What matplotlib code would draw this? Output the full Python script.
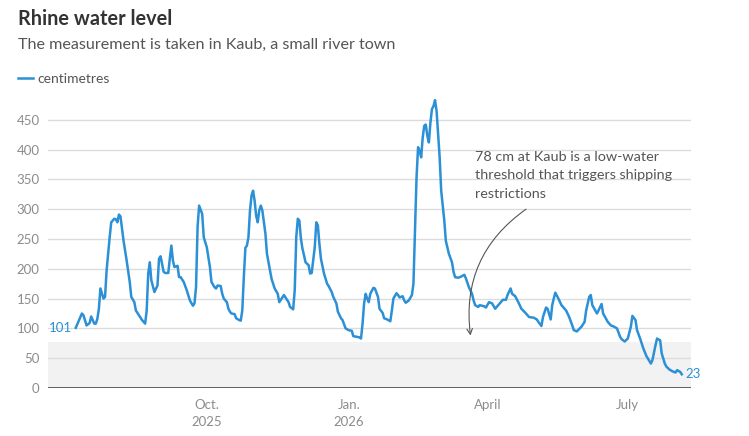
import matplotlib
matplotlib.use("Agg")
import matplotlib.pyplot as plt
import pandas as pd

plt.rcParams['font.family'] = ['Lato', 'DejaVu Sans']

# Kaub gauge, centimetres
dates = [
    "2025-07-08", "2025-07-09", "2025-07-12", "2025-07-13", "2025-07-15", "2025-07-17",
    "2025-07-18", "2025-07-20", "2025-07-21", "2025-07-22", "2025-07-23", "2025-07-24",
    "2025-07-26", "2025-07-27", "2025-07-28", "2025-07-30", "2025-07-31", "2025-08-02",
    "2025-08-03", "2025-08-04", "2025-08-05", "2025-08-06", "2025-08-08", "2025-08-10",
    "2025-08-12", "2025-08-13", "2025-08-15", "2025-08-16", "2025-08-18", "2025-08-20",
    "2025-08-22", "2025-08-23", "2025-08-24", "2025-08-25", "2025-08-26", "2025-08-28",
    "2025-08-30", "2025-08-31", "2025-09-01", "2025-09-03", "2025-09-04", "2025-09-06",
    "2025-09-07", "2025-09-08", "2025-09-09", "2025-09-10", "2025-09-12", "2025-09-13",
    "2025-09-14", "2025-09-16", "2025-09-18", "2025-09-20", "2025-09-22", "2025-09-23",
    "2025-09-24", "2025-09-25", "2025-09-26", "2025-09-28", "2025-09-29", "2025-10-01",
    "2025-10-03", "2025-10-04", "2025-10-06", "2025-10-07", "2025-10-08", "2025-10-10",
    "2025-10-11", "2025-10-12", "2025-10-14", "2025-10-15", "2025-10-16", "2025-10-17",
    "2025-10-19", "2025-10-20", "2025-10-22", "2025-10-23", "2025-10-24", "2025-10-25",
    "2025-10-26", "2025-10-27", "2025-10-28", "2025-10-29", "2025-10-30", "2025-10-31",
    "2025-11-01", "2025-11-02", "2025-11-03", "2025-11-04", "2025-11-05", "2025-11-06",
    "2025-11-08", "2025-11-09", "2025-11-11", "2025-11-12", "2025-11-14", "2025-11-16",
    "2025-11-17", "2025-11-20", "2025-11-23", "2025-11-24", "2025-11-26", "2025-11-27",
    "2025-11-28", "2025-11-29", "2025-11-30", "2025-12-01", "2025-12-02", "2025-12-03",
    "2025-12-04", "2025-12-06", "2025-12-07", "2025-12-08", "2025-12-10", "2025-12-11",
    "2025-12-12", "2025-12-13", "2025-12-14", "2025-12-16", "2025-12-18", "2025-12-19",
    "2025-12-21", "2025-12-22", "2025-12-24", "2025-12-25", "2025-12-27", "2025-12-28",
    "2025-12-30", "2026-01-01", "2026-01-03", "2026-01-04", "2026-01-06", "2026-01-08",
    "2026-01-09", "2026-01-10", "2026-01-11", "2026-01-12", "2026-01-13", "2026-01-14",
    "2026-01-15", "2026-01-17", "2026-01-18", "2026-01-20", "2026-01-21", "2026-01-23",
    "2026-01-24", "2026-01-26", "2026-01-28", "2026-01-29", "2026-01-30", "2026-02-01",
    "2026-02-02", "2026-02-03", "2026-02-05", "2026-02-06", "2026-02-07", "2026-02-09",
    "2026-02-11", "2026-02-12", "2026-02-13", "2026-02-14", "2026-02-15", "2026-02-16",
    "2026-02-17", "2026-02-18", "2026-02-19", "2026-02-20", "2026-02-21", "2026-02-22",
    "2026-02-23", "2026-02-24", "2026-02-25", "2026-02-26", "2026-02-27", "2026-03-01",
    "2026-03-02", "2026-03-04", "2026-03-05", "2026-03-07", "2026-03-09", "2026-03-10",
    "2026-03-11", "2026-03-13", "2026-03-15", "2026-03-17", "2026-03-18", "2026-03-20",
    "2026-03-22", "2026-03-23", "2026-03-24", "2026-03-26", "2026-03-27", "2026-03-30",
    "2026-03-31", "2026-04-02", "2026-04-04", "2026-04-06", "2026-04-08", "2026-04-11",
    "2026-04-13", "2026-04-14", "2026-04-16", "2026-04-17", "2026-04-19", "2026-04-21",
    "2026-04-23", "2026-04-26", "2026-04-28", "2026-05-01", "2026-05-03", "2026-05-04",
    "2026-05-06", "2026-05-07", "2026-05-09", "2026-05-10", "2026-05-12", "2026-05-13",
    "2026-05-14", "2026-05-15", "2026-05-17", "2026-05-19", "2026-05-22", "2026-05-24",
    "2026-05-26", "2026-05-27", "2026-05-29", "2026-06-01", "2026-06-03", "2026-06-04",
    "2026-06-06", "2026-06-07", "2026-06-08", "2026-06-11", "2026-06-12", "2026-06-14",
    "2026-06-15", "2026-06-18", "2026-06-20", "2026-06-22", "2026-06-24", "2026-06-26",
    "2026-06-27", "2026-06-29", "2026-07-01", "2026-07-03", "2026-07-04", "2026-07-06",
    "2026-07-07", "2026-07-09", "2026-07-11", "2026-07-13", "2026-07-16", "2026-07-17",
    "2026-07-19", "2026-07-20", "2026-07-22", "2026-07-23", "2026-07-25", "2026-07-26",
    "2026-07-28", "2026-07-30", "2026-08-01", "2026-08-02", "2026-08-04", "2026-08-05",
]
level_cm = [
    101, 107, 125, 122, 105, 109,
    120, 108, 108, 116, 133, 167,
    150, 153, 197, 253, 278, 284,
    283, 278, 291, 288, 247, 214,
    178, 153, 144, 130, 122, 114,
    108, 130, 192, 211, 181, 161,
    172, 217, 221, 195, 193, 193,
    217, 239, 214, 203, 205, 186,
    186, 178, 164, 147, 138, 142,
    169, 270, 306, 292, 253, 236,
    203, 178, 169, 167, 172, 171,
    158, 150, 144, 133, 128, 125,
    124, 117, 114, 113, 130, 186,
    235, 239, 253, 298, 323, 331,
    314, 289, 278, 298, 306, 298,
    259, 225, 197, 183, 167, 158,
    144, 156, 144, 136, 132, 164,
    253, 284, 281, 251, 234, 223,
    211, 206, 192, 193, 236, 278,
    273, 242, 217, 192, 175, 171,
    161, 153, 142, 128, 117, 114,
    100, 97, 96, 87, 86, 85,
    83, 108, 142, 158, 150, 144,
    158, 168, 167, 153, 133, 126,
    117, 115, 112, 130, 150, 159,
    156, 152, 154, 147, 143, 147,
    156, 175, 264, 353, 404, 398,
    387, 420, 440, 442, 423, 412,
    445, 468, 473, 483, 465, 387,
    331, 281, 247, 225, 211, 195,
    186, 185, 187, 190, 184, 169,
    158, 147, 139, 136, 139, 137,
    135, 144, 142, 133, 139, 148,
    148, 156, 167, 158, 154, 144,
    133, 125, 119, 118, 115, 111,
    104, 119, 135, 133, 115, 139,
    150, 160, 150, 139, 130, 119,
    105, 97, 95, 103, 111, 130,
    153, 156, 139, 125, 130, 141,
    125, 111, 105, 103, 100, 86,
    82, 78, 83, 103, 121, 114,
    97, 83, 67, 54, 41, 47,
    72, 83, 80, 58, 41, 36,
    31, 28, 26, 30, 27, 23,
]
threshold_cm = 78
y_ticks = [0, 50, 100, 150, 200, 250, 300, 350, 400, 450]
x_ticks = ["2025-10-01", "2026-01-01", "2026-04-01", "2026-07-01"]
x_tick_labels = ["Oct.\n2025", "Jan.\n2026", "April", "July"]

dates = pd.to_datetime(dates)
line_color = "#2b90d6"
grey_text = "#8c8c8c"

fig = plt.figure(figsize=(7.49, 4.36), dpi=100)
W, H = 749, 436
ax = fig.add_axes([48 / W, (H - 388) / H, (691 - 48) / W, 298 / H])

ax.set_xlim(pd.Timestamp("2025-06-20"), pd.Timestamp("2026-08-11"))
ax.set_ylim(0, 500)

# low water band
ax.axhspan(0, threshold_cm, color="#f2f2f2", zorder=0, lw=0)

ax.set_yticks(y_ticks)
ax.set_yticklabels([str(t) for t in y_ticks])
ax.grid(axis="y", color="#dcdcdc", lw=1, zorder=1)
ax.axhline(0, color="#555555", lw=1.3, zorder=2)

ax.set_xticks(pd.to_datetime(x_ticks))
ax.set_xticklabels(x_tick_labels, linespacing=1.45)
ax.tick_params(axis="both", length=0, labelsize=9.5, colors=grey_text)
ax.tick_params(axis="y", pad=6)
ax.tick_params(axis="x", pad=8)
for s in ax.spines.values():
    s.set_visible(False)

ax.plot(dates, level_cm, color=line_color, lw=1.8, zorder=3,
        solid_joinstyle="round")

ax.annotate(str(level_cm[0]), (dates[0], level_cm[0]), xytext=(-3, 0),
            textcoords="offset points", ha="right", va="center",
            color=line_color, fontsize=9.5)
ax.annotate(str(level_cm[-1]), (dates[-1], level_cm[-1]), xytext=(3, 0),
            textcoords="offset points", ha="left", va="center",
            color=line_color, fontsize=9.5)

ax.text(pd.Timestamp("2026-03-24"), 398,
        "78 cm at Kaub is a low-water\nthreshold that triggers shipping\nrestrictions",
        ha="left", va="top", fontsize=10.4, color="#555555", linespacing=1.65)
ax.annotate("", xy=(pd.Timestamp("2026-03-21"), 88),
            xytext=(pd.Timestamp("2026-04-26"), 300),
            arrowprops=dict(arrowstyle="->", color="#555555", lw=0.8,
                            connectionstyle="arc3,rad=0.3",
                            shrinkA=0, shrinkB=0))

fig.text(18 / W, 1 - 25 / H, "Rhine water level", fontsize=14.3,
         fontweight="bold", color="#333333", va="baseline")
fig.text(18 / W, 1 - 48.5 / H, "The measurement is taken in Kaub, a small river town",
         fontsize=11.6, color="#555555", va="baseline")
fig.add_artist(plt.Line2D([18 / W, 33 / W], [1 - 78 / H, 1 - 78 / H],
                          color=line_color, lw=1.8))
fig.text(37 / W, 1 - 82.5 / H, "centimetres", fontsize=10,
         color="#555555", va="baseline")

fig.savefig("out.png", dpi=100, facecolor="white")
